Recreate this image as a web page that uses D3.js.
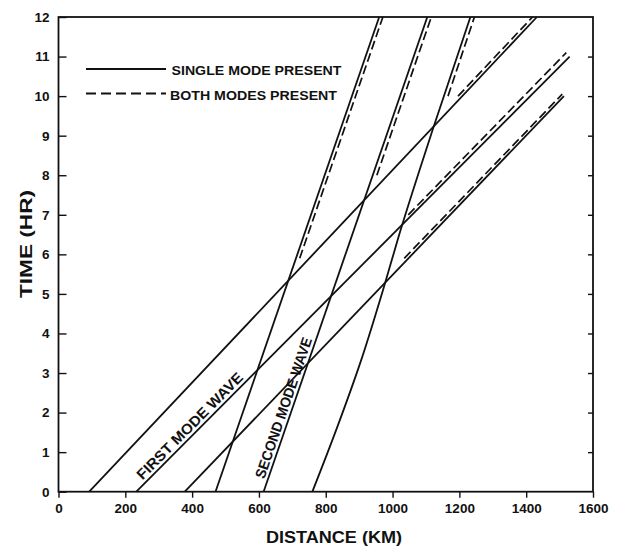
<!DOCTYPE html>
<html>
<head>
<meta charset="utf-8">
<script src="https://cdn.jsdelivr.net/npm/d3@7"></script>
<style>
  html, body { margin: 0; padding: 0; background: #fff; }
  svg { display: block; }
  text { font-family: "Liberation Sans", Arial, sans-serif; font-weight: bold; fill: #111; }
</style>
</head>
<body>
<svg id="chart" width="622" height="546"></svg>
<script>
// ---- data ----
const xTicks = [0, 200, 400, 600, 800, 1000, 1200, 1400, 1600];
const yTicks = [0, 1, 2, 3, 4, 5, 6, 7, 8, 9, 10, 11, 12];
const xLabel = "DISTANCE (KM)";
const yLabel = "TIME (HR)";
const legendSingle = "SINGLE MODE PRESENT";
const legendBoth = "BOTH MODES PRESENT";
const firstModeLabel = "FIRST MODE WAVE";
const secondModeLabel = "SECOND MODE WAVE";

// first mode waves [distance km, time hr]
const firstMode1 = [[92, 0], [1432, 12]];
const firstMode2 = [[233, 0], [1530, 11]];
const firstMode3 = [[378, 0], [1513, 10]];
// second mode waves
const secondMode1 = [[470, 0], [960, 12]];
const secondMode2 = [[614, 0], [1104, 12]];
const secondMode3 = [[760, 0], [833, 1.6], [905, 3.3], [975, 5.2], [1020, 6.5], [1122, 9.2], [1233, 12]];
// both modes present (dashed)
const bothFirst1 = [[1196, 10], [1419, 12]];
const bothFirst2 = [[1047, 7], [1520, 11.1]];
const bothFirst3 = [[1035, 5.9], [1508, 10.05]];
const bothSecond1 = [[722, 5.9], [971, 12]];
const bothSecond2 = [[953, 8], [1116, 12]];
const bothSecond3 = [[1166, 10], [1245, 12]];

const solidSeries = [firstMode1, firstMode2, firstMode3, secondMode1, secondMode2];
const curvedSeries = [secondMode3];
const dashedSeries = [bothFirst1, bothFirst2, bothFirst3, bothSecond1, bothSecond2, bothSecond3];

// ---- drawing ----
const svg = d3.select("#chart");
const ink = "#111";
const x = d3.scaleLinear().domain([0, 1600]).range([58.5, 593]);
const y = d3.scaleLinear().domain([0, 12]).range([491.7, 17]);

const line = d3.line().x(d => x(d[0])).y(d => y(d[1]));
const curve = d3.line().x(d => x(d[0])).y(d => y(d[1])).curve(d3.curveMonotoneY);

// axes
const gB = svg.append("g").attr("transform", `translate(0,${y(0)})`)
  .call(d3.axisBottom(x).tickValues(xTicks).tickSize(6).tickPadding(6).tickFormat(d3.format("d")));
const gL = svg.append("g").attr("transform", `translate(${x(0)},0)`)
  .call(d3.axisLeft(y).tickValues(yTicks).tickSizeInner(-8).tickSizeOuter(0).tickPadding(9).tickFormat(d3.format("d")));
const gR = svg.append("g").attr("transform", `translate(${x(1600)},0)`)
  .call(d3.axisLeft(y).tickValues(yTicks.slice(1, -1)).tickSizeInner(5).tickSizeOuter(0).tickFormat(""));
[gB, gL, gR].forEach(g => {
  g.select(".domain").remove();
  g.selectAll(".tick line").attr("stroke", ink).attr("stroke-width", 1.4);
  g.selectAll(".tick text").style("font-size", "13.5px").style("font-family", "Liberation Sans, Arial, sans-serif")
    .style("font-weight", "bold").attr("fill", ink);
});

// frame
svg.append("rect")
  .attr("x", x(0)).attr("y", y(12))
  .attr("width", x(1600) - x(0)).attr("height", y(0) - y(12))
  .attr("fill", "none").attr("stroke", ink).attr("stroke-width", 1.8);

// lines
svg.append("g").selectAll("path").data(solidSeries).join("path")
  .attr("d", line).attr("fill", "none").attr("stroke", ink).attr("stroke-width", 1.8);
svg.append("g").selectAll("path").data(curvedSeries).join("path")
  .attr("d", curve).attr("fill", "none").attr("stroke", ink).attr("stroke-width", 1.8);
svg.append("g").selectAll("path").data(dashedSeries).join("path")
  .attr("d", line).attr("fill", "none").attr("stroke", ink).attr("stroke-width", 1.7)
  .attr("stroke-dasharray", "9,4");

// labels along lines
function alongLabel(series, tStart, tEnd, text, offset, len, size) {
  const [a, b] = series;
  const f = t => a[0] + (b[0] - a[0]) * (t - a[1]) / (b[1] - a[1]);
  const px0 = x(f(tStart)), py0 = y(tStart);
  const px1 = x(f(tEnd)), py1 = y(tEnd);
  const ang = Math.atan2(py1 - py0, px1 - px0);
  const nx = Math.sin(ang) * offset, ny = -Math.cos(ang) * offset;
  svg.append("text")
    .attr("transform", `translate(${px0 + nx},${py0 + ny}) rotate(${ang * 180 / Math.PI})`)
    .attr("textLength", len).attr("lengthAdjust", "spacingAndGlyphs")
    .style("font-size", size + "px")
    .text(text);
}
alongLabel(firstMode2, 0.22, 2.7, firstModeLabel, 3.5, 144, 14.5);
alongLabel(secondMode2, 0.28, 3.85, secondModeLabel, 3.5, 148, 14.5);

// legend
svg.append("line").attr("x1", 86).attr("x2", 166).attr("y1", 69).attr("y2", 69)
  .attr("stroke", ink).attr("stroke-width", 1.8);
svg.append("line").attr("x1", 86).attr("x2", 166).attr("y1", 93.5).attr("y2", 93.5)
  .attr("stroke", ink).attr("stroke-width", 1.8).attr("stroke-dasharray", "10,5");
svg.append("text").attr("x", 171.5).attr("y", 74.5).attr("textLength", 170)
  .attr("lengthAdjust", "spacingAndGlyphs").style("font-size", "13.5px").text(legendSingle);
svg.append("text").attr("x", 170).attr("y", 99.5).attr("textLength", 167)
  .attr("lengthAdjust", "spacingAndGlyphs").style("font-size", "13.5px").text(legendBoth);

// axis titles
svg.append("text").attr("x", 334).attr("y", 543).attr("text-anchor", "middle")
  .attr("textLength", 136).attr("lengthAdjust", "spacingAndGlyphs")
  .style("font-size", "16px").text(xLabel);
svg.append("text").attr("transform", "translate(32,244) rotate(-90)").attr("text-anchor", "middle")
  .attr("textLength", 108).attr("lengthAdjust", "spacingAndGlyphs")
  .style("font-size", "16px").text(yLabel);
</script>
</body>
</html>
